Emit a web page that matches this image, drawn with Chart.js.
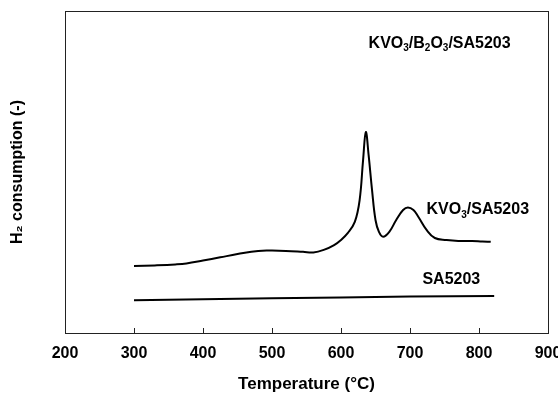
<!DOCTYPE html>
<html>
<head>
<meta charset="utf-8">
<script src="https://cdn.jsdelivr.net/npm/chart.js@4"></script>
<style>
  html, body { margin: 0; padding: 0; background: #fff; }
  #wrap { width: 558px; height: 397px; }
</style>
</head>
<body>
<div id="wrap"><canvas id="tprChart" width="558" height="397"></canvas></div>
<script>
// H2-TPR profiles (y in arbitrary units 0..100)
const kvoTemps = [300, 330, 360, 376, 400, 425, 450, 480, 500, 520, 545, 560, 575, 590, 600, 610, 620, 627, 632, 636,
                  640, 645, 650, 655, 661, 670, 680, 690, 697, 705, 712, 724, 736, 753, 770, 790, 805, 817];
const kvoValues = [20.8, 21.0, 21.3, 21.6, 22.5, 23.5, 24.5, 25.5, 25.6, 25.5, 25.2, 25.0, 25.8, 27.3, 28.9, 31.1, 34.5, 41.3, 53.7, 62.4,
                   55.3, 44.4, 35.1, 31.4, 29.9, 31.4, 35.1, 38.2, 39.0, 38.2, 36.1, 32.0, 29.5, 28.9, 28.6, 28.6, 28.4, 28.3];

const supportTemps = [300, 400, 500, 600, 700, 822];
const supportValues = [10.2, 10.5, 10.8, 11.0, 11.3, 11.5];

const xTicks = [200, 300, 400, 500, 600, 700, 800, 900];

// curve labels: [text parts], anchor in data units (left, middle)
const labelParts = [
    [['KVO', 0], ['3', 1], ['/B', 0], ['2', 1], ['O', 0], ['3', 1], ['/SA5203', 0]],
    [['KVO', 0], ['3', 1], ['/SA5203', 0]],
    [['SA5203', 0]]
];
const labelX = [640, 724, 718];
const labelY = [90, 38.2, 16.5];

const FONT = "'Liberation Sans', Arial, sans-serif";

const toPoints = (xs, ys) => xs.map((x, i) => ({ x: x, y: ys[i] }));

const framePlugin = {
    id: 'frame',
    afterDraw(chart) {
        const ctx = chart.ctx;
        const area = chart.chartArea;
        const xs = chart.scales.x;
        ctx.save();
        ctx.strokeStyle = '#222';
        ctx.lineWidth = 1;
        ctx.strokeRect(area.left + 0.5, area.top + 0.5, area.right - area.left, area.bottom - area.top);
        // small inward ticks on the temperature axis
        xTicks.slice(1, -1).forEach(t => {
            const px = Math.round(xs.getPixelForValue(t)) + 0.5;
            ctx.beginPath();
            ctx.moveTo(px, area.bottom);
            ctx.lineTo(px, area.bottom - 5);
            ctx.stroke();
        });

        // curve labels with subscripts
        ctx.fillStyle = '#000';
        ctx.textBaseline = 'middle';
        labelParts.forEach((parts, i) => {
            let px = xs.getPixelForValue(labelX[i]);
            const py = chart.scales.y.getPixelForValue(labelY[i]);
            parts.forEach(([txt, sub]) => {
                ctx.font = sub ? 'bold 10px ' + FONT : 'bold 16px ' + FONT;
                ctx.fillText(txt, px, sub ? py + 5 : py);
                px += ctx.measureText(txt).width;
            });
        });
        ctx.restore();
    }
};

new Chart(document.getElementById('tprChart'), {
    type: 'line',
    data: {
        datasets: [
            {
                label: 'KVO3/SA5203',
                data: toPoints(kvoTemps, kvoValues),
                borderColor: '#000',
                borderWidth: 2,
                pointRadius: 0,
                tension: 0.4,
                fill: false
            },
            {
                label: 'SA5203',
                data: toPoints(supportTemps, supportValues),
                borderColor: '#000',
                borderWidth: 2,
                pointRadius: 0,
                tension: 0,
                fill: false
            }
        ]
    },
    options: {
        responsive: false,
        animation: false,
        layout: { padding: { left: 0, right: 10, top: 11, bottom: 0 } },
        plugins: { legend: { display: false }, tooltip: { enabled: false } },
        scales: {
            x: {
                type: 'linear',
                min: 200,
                max: 900,
                afterBuildTicks(scale) { scale.ticks = xTicks.map(v => ({ value: v })); },
                afterFit(scale) { scale.height = 64; scale.paddingLeft = 0; scale.paddingRight = 0; },
                grid: { display: true, drawOnChartArea: false, drawTicks: false },
                border: { display: false },
                ticks: { padding: 11, color: '#000', font: { family: FONT, size: 16, weight: 'bold' } },
                title: {
                    display: true,
                    text: 'Temperature (°C)',
                    color: '#000',
                    padding: { top: 0, bottom: 2 },
                    font: { family: FONT, size: 17, weight: 'bold' }
                }
            },
            y: {
                min: 0,
                max: 100,
                afterFit(scale) { scale.width = 65; },
                grid: { display: false },
                border: { display: false },
                ticks: { display: false },
                title: {
                    display: true,
                    text: 'H₂ consumption (-)',
                    color: '#000',
                    padding: { top: 8, bottom: 0 },
                    font: { family: FONT, size: 16, weight: 'bold' }
                }
            }
        }
    },
    plugins: [framePlugin]
});
</script>
</body>
</html>
